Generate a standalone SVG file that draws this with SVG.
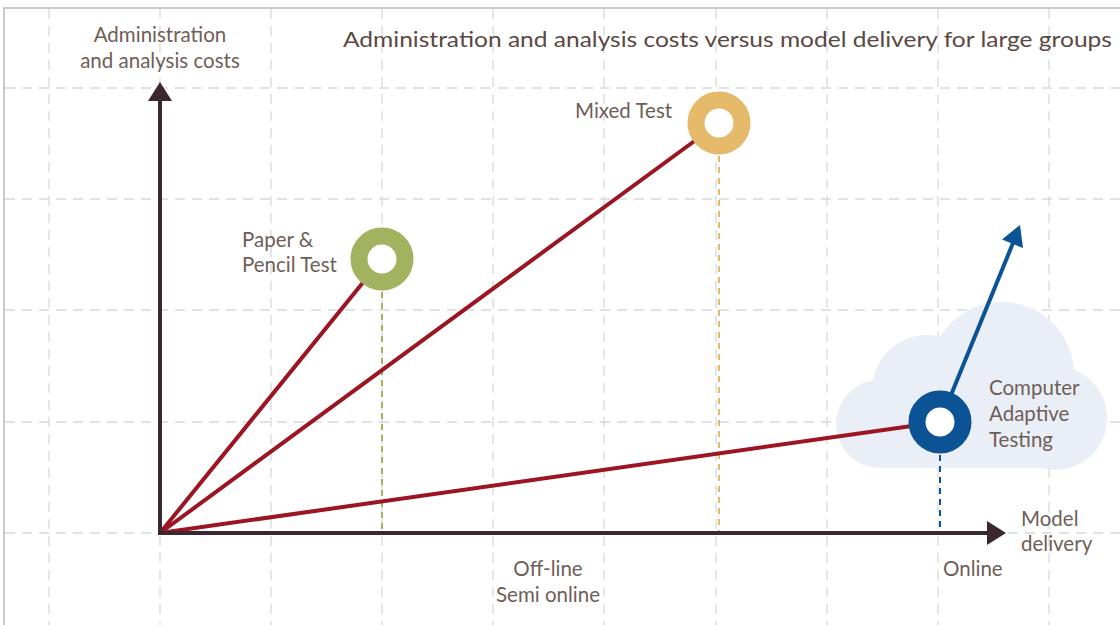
<svg xmlns="http://www.w3.org/2000/svg" width="1120" height="625" viewBox="0 0 1120 625">
<style>
.grid line{stroke:#d9d9d9;stroke-width:1.3;stroke-dasharray:10 7}
.lbl{font-family:Lato,"Open Sans","Liberation Sans",sans-serif;font-size:20.5px;fill:#6f5e58}
.ttl{font-family:Lato,"Open Sans","Liberation Sans",sans-serif;font-size:22px;fill:#5a4842}
.axis{stroke:#3a2830;stroke-width:4;fill:none}
.red{stroke:#9b1622;stroke-width:4;stroke-linecap:round;fill:none}
.ring{fill:#ffffff;stroke-width:17}
.drop{stroke-width:2;stroke-dasharray:6 5;fill:none}
</style>
<rect width="1120" height="625" fill="#ffffff"/>
<g id="frame"><path d="M4 625 V8 H1120" fill="none" stroke="#c9c9c9" stroke-width="2"/></g>
<g id="grid" class="grid">
<line x1="49" y1="9" x2="49" y2="625"/>
<line x1="160" y1="9" x2="160" y2="625"/>
<line x1="271" y1="9" x2="271" y2="625"/>
<line x1="382" y1="9" x2="382" y2="625"/>
<line x1="493" y1="9" x2="493" y2="625"/>
<line x1="604" y1="9" x2="604" y2="625"/>
<line x1="716" y1="9" x2="716" y2="625"/>
<line x1="827" y1="9" x2="827" y2="625"/>
<line x1="938" y1="9" x2="938" y2="625"/>
<line x1="1049" y1="9" x2="1049" y2="625"/>
<line x1="5" y1="88" x2="1120" y2="88"/>
<line x1="5" y1="199" x2="1120" y2="199"/>
<line x1="5" y1="310" x2="1120" y2="310"/>
<line x1="5" y1="422" x2="1120" y2="422"/>
<line x1="5" y1="533" x2="1120" y2="533"/>
</g>
<g id="cloud" fill="#eaeef6">
<circle cx="880" cy="424" r="44"/>
<circle cx="927" cy="390" r="55"/>
<circle cx="1002" cy="374" r="72"/>
<circle cx="1055" cy="418" r="52"/>
<rect x="880" y="400" width="175" height="68"/>
</g>
<g id="title"><text class="ttl" x="343" y="47" textLength="769" lengthAdjust="spacingAndGlyphs">Administration and analysis costs versus model delivery for large groups</text></g>
<g id="connectors">
<line class="drop" x1="382" y1="292" x2="382" y2="531" stroke="#a3b25f"/>
<line class="drop" x1="719" y1="156" x2="719" y2="531" stroke="#e6ba6b"/>
<line class="drop" x1="940" y1="455" x2="940" y2="531" stroke="#0b5394"/>
<line class="red" x1="160" y1="533" x2="382" y2="259"/>
<line class="red" x1="160" y1="533" x2="719" y2="123"/>
<line class="red" x1="160" y1="533" x2="940" y2="422"/>
<line x1="940" y1="422" x2="1013" y2="243" stroke="#0b5394" stroke-width="4"/>
<polygon points="1020,225 1002,239.5 1023,248" fill="#0b5394"/>
</g>
<g id="axes">
<line class="axis" x1="160" y1="535" x2="160" y2="98"/>
<polygon points="160,82 148,101 172,101" fill="#3a2830"/>
<line class="axis" x1="158" y1="533" x2="990" y2="533"/>
<polygon points="1006,533 987,521 987,545" fill="#3a2830"/>
</g>
<g id="y-label"><text class="lbl" text-anchor="middle"><tspan x="160" y="42">Administration</tspan><tspan x="160" y="68">and analysis costs</tspan></text></g>
<g id="x-label"><text class="lbl"><tspan x="1021" y="526">Model</tspan><tspan x="1021" y="551">delivery</tspan></text></g>
<g id="paper-pencil">
<circle class="ring" cx="382" cy="259" r="23" stroke="#a3b25f"/>
<text class="lbl"><tspan x="242" y="247">Paper &amp;</tspan><tspan x="242" y="272">Pencil Test</tspan></text>
</g>
<g id="mixed-test">
<circle class="ring" cx="719" cy="123" r="23" stroke="#e6ba6b"/>
<text class="lbl" x="575" y="118">Mixed Test</text>
</g>
<g id="cat">
<circle class="ring" cx="940" cy="422" r="23" stroke="#0b5394"/>
<text class="lbl"><tspan x="989" y="395">Computer</tspan><tspan x="989" y="421">Adaptive</tspan><tspan x="989" y="447">Testing</tspan></text>
</g>
<g id="offline"><text class="lbl" text-anchor="middle"><tspan x="548" y="576">Off-line</tspan><tspan x="548" y="602">Semi online</tspan></text></g>
<g id="online"><text class="lbl" x="943" y="576">Online</text></g>
</svg>
